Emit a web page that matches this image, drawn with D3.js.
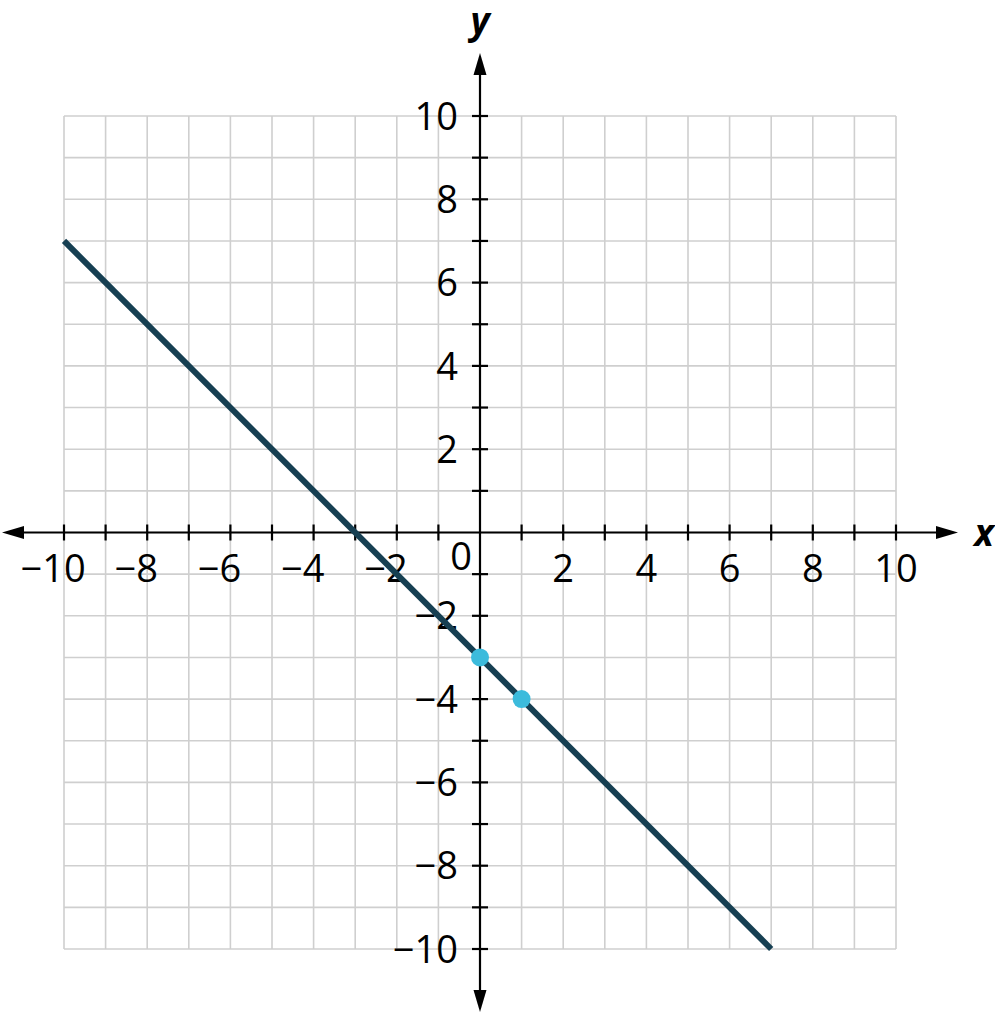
<!DOCTYPE html>
<html>
<head>
<meta charset="utf-8">
<script src="https://cdn.jsdelivr.net/npm/d3@7"></script>
<style>
  html, body { margin: 0; padding: 0; background: #fff; }
  svg { display: block; }
  .grid line { stroke: #cfcfcf; stroke-width: 1.6; }
  .axis { stroke: #000; stroke-width: 2.2; }
  .tick-label { font-family: "Open Sans", sans-serif; font-size: 38px; fill: #000; }
  .axis-name { font-family: "Open Sans", sans-serif; font-size: 37px; font-weight: bold; font-style: italic; fill: #000; }
</style>
</head>
<body>
<svg id="chart" width="995" height="1013"></svg>
<script>
// data
const xDomain = [-10, 10];
const yDomain = [-10, 10];
const xTickLabels = [-10, -8, -6, -4, -2, 2, 4, 6, 8, 10];
const yTickLabels = [10, 8, 6, 4, 2, -2, -4, -6, -8, -10];
const lineEnds = [{ x: -10, y: 7 }, { x: 7, y: -10 }];
const points = [{ x: 0, y: -3 }, { x: 1, y: -4 }];

const LINE_COLOR = '#163f52';
const POINT_COLOR = '#3cbbdc';

const svg = d3.select('#chart');

const x = d3.scaleLinear().domain(xDomain).range([64, 896]);
const y = d3.scaleLinear().domain(yDomain).range([949, 116]);

const x0 = x(0), y0 = y(0);

// grid
const grid = svg.append('g').classed('grid', true);
d3.range(xDomain[0], xDomain[1] + 1).forEach(v => {
  grid.append('line')
    .attr('x1', x(v)).attr('x2', x(v))
    .attr('y1', y(yDomain[1])).attr('y2', y(yDomain[0]));
});
d3.range(yDomain[0], yDomain[1] + 1).forEach(v => {
  grid.append('line')
    .attr('x1', x(xDomain[0])).attr('x2', x(xDomain[1]))
    .attr('y1', y(v)).attr('y2', y(v));
});

// axes
svg.append('line').classed('axis', true)
  .attr('x1', 14).attr('x2', 946).attr('y1', y0).attr('y2', y0);
svg.append('line').classed('axis', true)
  .attr('x1', x0).attr('x2', x0).attr('y1', 66).attr('y2', 1000);

// arrowheads
const arrow = (tipX, tipY, dx, dy) => {
  // dx,dy: unit direction the arrow points
  const L = 22, W = 6.5;
  const bx = tipX - dx * L, by = tipY - dy * L;
  const px = -dy * W, py = dx * W;
  svg.append('path')
    .attr('d', `M${tipX},${tipY}L${bx + px},${by + py}L${bx - px},${by - py}Z`)
    .attr('fill', '#000');
};
arrow(2, y0, -1, 0);
arrow(958, y0, 1, 0);
arrow(x0, 53, 0, -1);
arrow(x0, 1012, 0, 1);

// tick marks
d3.range(xDomain[0], xDomain[1] + 1).filter(v => v !== 0).forEach(v => {
  svg.append('line').classed('axis', true)
    .attr('x1', x(v)).attr('x2', x(v)).attr('y1', y0 - 8).attr('y2', y0 + 8);
});
d3.range(yDomain[0], yDomain[1] + 1).filter(v => v !== 0).forEach(v => {
  svg.append('line').classed('axis', true)
    .attr('x1', x0 - 8).attr('x2', x0 + 8).attr('y1', y(v)).attr('y2', y(v));
});

// x tick labels: digits centred on the tick, minus sign hangs to the left
xTickLabels.forEach(v => {
  const t = svg.append('text').classed('tick-label', true)
    .attr('x', x(v)).attr('y', y0 + 49)
    .attr('text-anchor', 'middle')
    .text(Math.abs(v));
  if (v < 0) {
    const w = t.node().getComputedTextLength();
    svg.append('text').classed('tick-label', true)
      .attr('x', x(v) - w / 2).attr('y', y0 + 49)
      .attr('text-anchor', 'end')
      .text('\u2212');
  }
});

// y tick labels
yTickLabels.forEach(v => {
  svg.append('text').classed('tick-label', true)
    .attr('x', x0 - 22).attr('y', y(v))
    .attr('dy', '0.36em')
    .attr('text-anchor', 'end')
    .text(v < 0 ? '\u2212' + Math.abs(v) : v);
});

// origin label
svg.append('text').classed('tick-label', true)
  .attr('x', x0 - 19).attr('y', y0 + 37)
  .attr('text-anchor', 'middle')
  .text('0');

// axis names
svg.append('text').classed('axis-name', true)
  .attr('x', 984).attr('y', y0).attr('dy', '0.36em')
  .attr('text-anchor', 'middle')
  .text('x');
svg.append('text').classed('axis-name', true)
  .attr('x', x0).attr('y', 34)
  .attr('text-anchor', 'middle')
  .text('y');

// the line
svg.append('path')
  .attr('d', d3.line().x(d => x(d.x)).y(d => y(d.y))(lineEnds))
  .attr('fill', 'none')
  .attr('stroke', LINE_COLOR)
  .attr('stroke-width', 6);

// points
svg.selectAll('circle.pt')
  .data(points)
  .join('circle')
  .classed('pt', true)
  .attr('cx', d => x(d.x))
  .attr('cy', d => y(d.y))
  .attr('r', 9)
  .attr('fill', POINT_COLOR);
</script>
</body>
</html>
